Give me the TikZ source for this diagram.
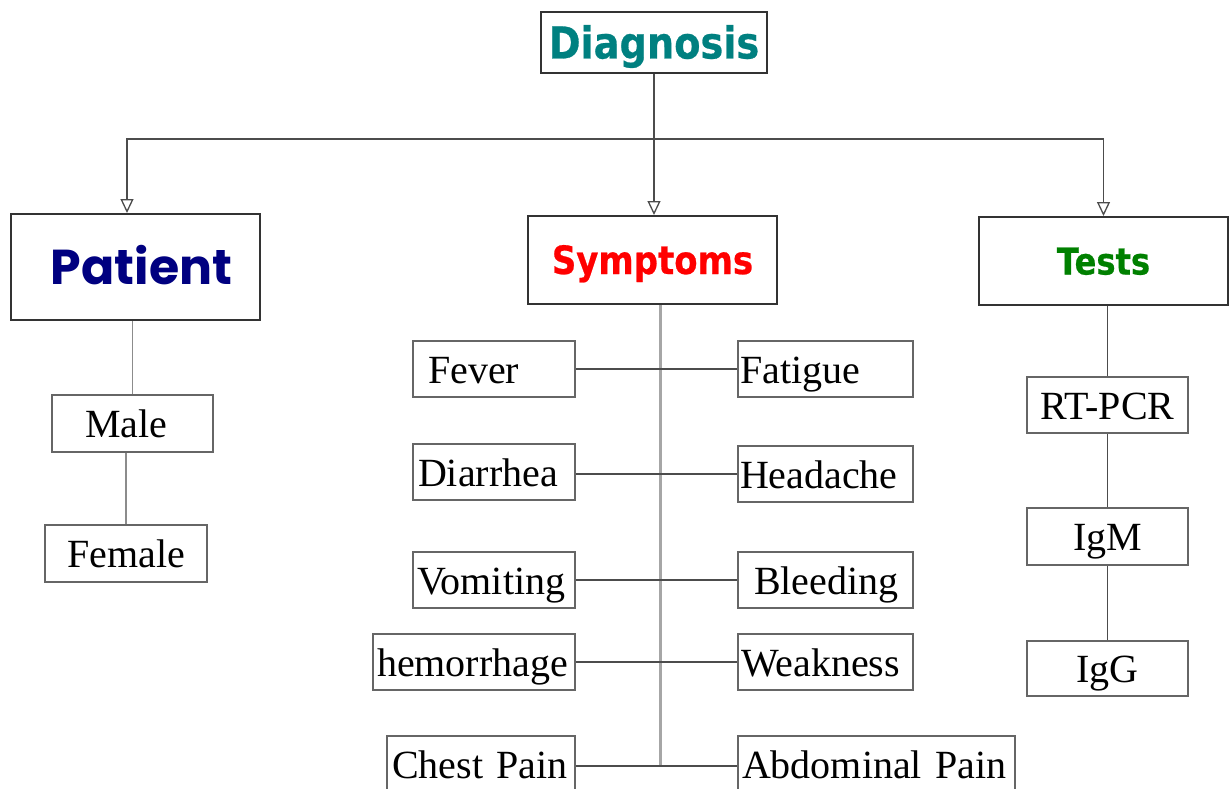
\documentclass[tikz,border=0pt]{standalone}
\usepackage{fontspec}
\setmainfont{Liberation Serif}
\newfontfamily\headfont{DejaVu Sans}[FakeStretch=0.87, FakeBold=0.6]
\newfontfamily\patfont{Poppins}
\usetikzlibrary{arrows.meta}
\definecolor{diagteal}{RGB}{0,128,128}
\definecolor{patnavy}{RGB}{0,0,128}
\definecolor{symred}{RGB}{255,0,0}
\definecolor{testgreen}{RGB}{0,128,0}

\begin{document}
\begin{tikzpicture}[x=1pt,y=-1pt,
  every node/.style={inner sep=0pt},
  head/.style={draw=black!80, line width=2pt, fill=white},
  item/.style={draw=black!60, line width=1.6pt, fill=white, minimum height=56pt,
    font=\fontsize{40}{44}\selectfont, text height=28pt, text depth=0pt},
  lbox/.style 2 args={item, text width=#1, inner xsep=#2, align=left},
  link/.style={draw=black!70, line width=1.3pt},
  softlink/.style={draw=black!45, line width=1.5pt},
  arr/.style={link, -{Triangle[open, width=13pt, length=14pt, fill=white]}},
  trunk/.style={draw=black!35, line width=3pt}]

\useasboundingbox (0,0) rectangle (1229,789);
\fill[white] (0,0) rectangle (1229,789);
\clip (0,0) rectangle (1229,789);

% top level
\node[head, minimum width=226pt, minimum height=61pt, text=diagteal,
  font=\headfont\bfseries\fontsize{44}{48}\selectfont, text height=32pt, text depth=0pt]
  (diag) at (654,42.5) {Diagnosis};

% three branches
\node[head, minimum width=249pt, minimum height=106pt, text=patnavy,
  font=\patfont\bfseries\fontsize{49}{54}\selectfont, text height=35pt, text depth=0pt]
  (patient) at (135.5,267) {\hspace*{12pt}Patient};
\node[head, minimum width=249pt, minimum height=88pt, text=symred,
  font=\headfont\bfseries\fontsize{39}{43}\selectfont, text height=28pt, text depth=0pt]
  (symptoms) at (652.5,260) {Symptoms};
\node[head, minimum width=249pt, minimum height=88pt, text=testgreen,
  font=\headfont\bfseries\fontsize{37}{41}\selectfont, text height=27pt, text depth=0pt]
  (tests) at (1103.5,261) {Tests};

% distribution bus with open arrowheads
\coordinate (bus) at (654,139);
\draw[link] (diag.south) -- (bus);
\draw[arr] (bus) -| ([xshift=-8.5pt]patient.north);
\draw[arr] (bus) -- (bus |- symptoms.north);
\draw[arr] (bus) -| (tests.north);

% patient column
\node[item, minimum width=161pt, minimum height=57pt] (male) at (132.5,423.5) {Male\hspace*{12pt}};
\node[item, minimum width=162pt, minimum height=57pt] (female) at (126,553.5) {Female};
\draw[softlink] (male.north) -- (male.north |- patient.south);
\draw[softlink] (female.north) -- (female.north |- male.south);

% symptoms: trunk and paired boxes
\coordinate (tbot) at (660,766);
\draw[trunk] (symptoms.south -| tbot) -- (tbot);

\node[lbox={132pt}{15pt}] (fever) at (494,369) {Fever};
\node[lbox={152pt}{5pt}] (diarrhea) at (494,472) {Diarrhea};
\node[lbox={154pt}{4pt}] (vomiting) at (494,580) {Vomiting};
\node[lbox={194pt}{4pt}] (hemorrhage) at (474,662) {hemorrhage};
\node[lbox={178pt}{5pt}] (chest) at (481,764) {Chest Pain};

\node[lbox={171pt}{2pt}] (fatigue) at (825.5,369) {Fatigue};
\node[lbox={171pt}{2pt}] (headache) at (825.5,474) {Headache};
\node[lbox={143pt}{16pt}] (bleeding) at (825.5,580) {Bleeding};
\node[lbox={169pt}{3pt}] (weakness) at (825.5,662) {Weakness};
\node[lbox={269pt}{4pt}] (abdominal) at (876.5,764) {Abdominal Pain};

\draw[link] (fever.east) -- (fever.east -| fatigue.west);
\draw[link] (headache.west) -- (headache.west -| diarrhea.east);
\draw[link] (vomiting.east) -- (vomiting.east -| bleeding.west);
\draw[link] (hemorrhage.east) -- (hemorrhage.east -| weakness.west);
\draw[link] (tbot -| chest.east) -- (tbot -| abdominal.west);

% tests column
\node[item, minimum width=161pt] (rtpcr) at (1107.5,405) {RT-PCR};
\node[item, minimum width=161pt, minimum height=57pt] (igm) at (1107.5,536.5) {IgM};
\node[item, minimum width=161pt, minimum height=55pt] (igg) at (1107.5,668.5) {IgG};
\draw[link] (rtpcr.north) -- (rtpcr.north |- tests.south);
\draw[link] (igm.north) -- (igm.north |- rtpcr.south);
\draw[link] (igg.north) -- (igg.north |- igm.south);
\end{tikzpicture}
\end{document}
